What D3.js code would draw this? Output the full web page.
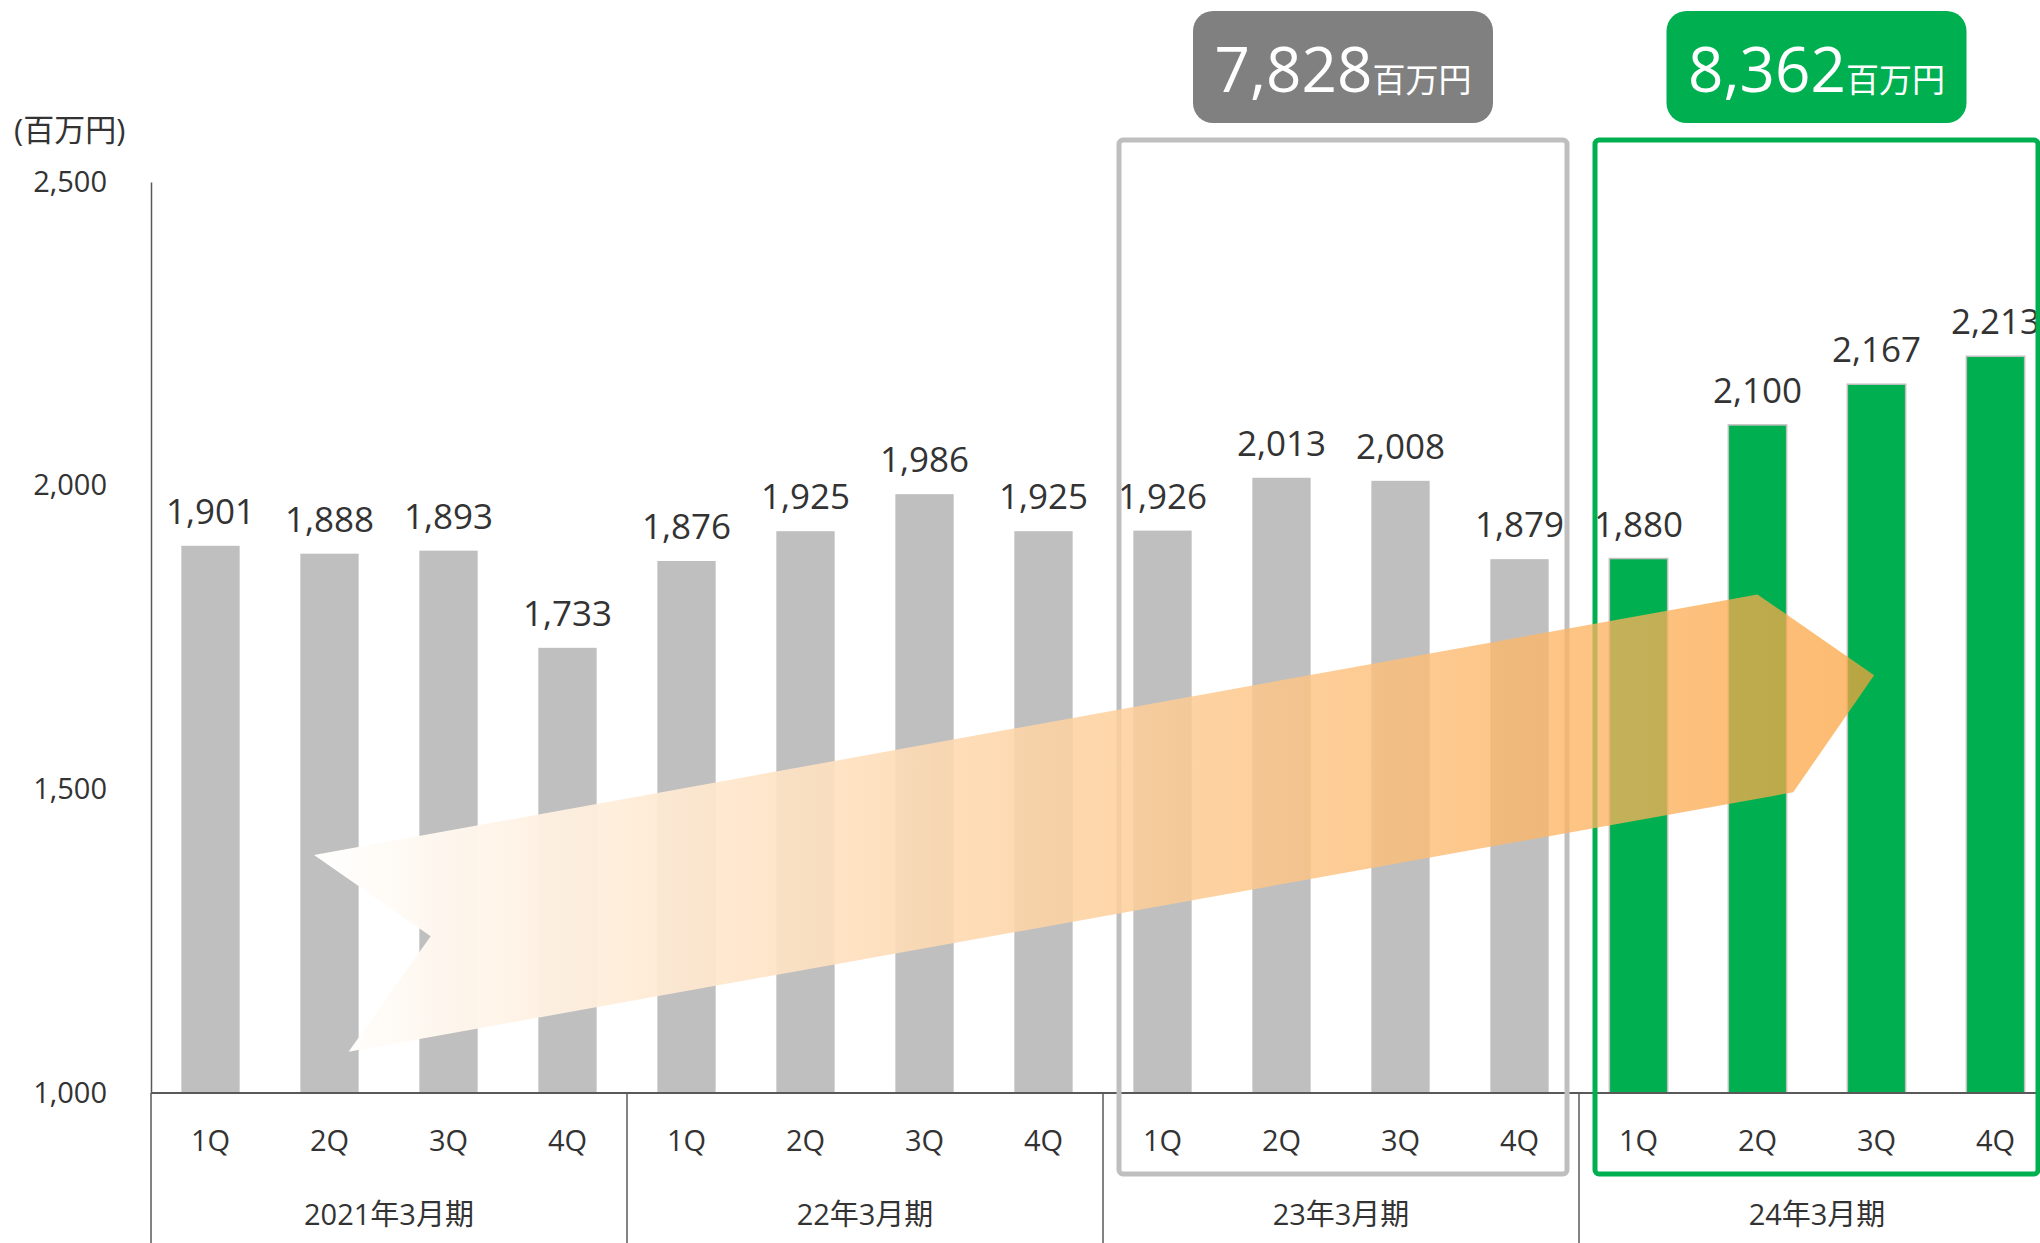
<!DOCTYPE html>
<html>
<head>
<meta charset="utf-8">
<script src="https://cdn.jsdelivr.net/npm/d3@7"></script>
<style>
  body { margin: 0; background: #fff; }
  svg text { font-family: "Open Sans", "Noto Sans CJK JP", sans-serif; fill: #333; }
</style>
</head>
<body>
<svg id="chart" width="2040" height="1243"></svg>
<script>
const fiscalYears = ["2021年3月期", "22年3月期", "23年3月期", "24年3月期"];
const quarters = ["1Q", "2Q", "3Q", "4Q"];
const fy2021 = [1901, 1888, 1893, 1733];
const fy2022 = [1876, 1925, 1986, 1925];
const fy2023 = [1926, 2013, 2008, 1879];
const fy2024 = [1880, 2100, 2167, 2213];
const yTicks = [1000, 1500, 2000, 2500];
const annualTotals = [7828, 8362];   // 23年3月期, 24年3月期
const unitLabel = "(百万円)";
const totalUnit = "百万円";
// arrow outline, in (quarter index, value) space
const arrowShape = [[1.37, 1392], [13.50, 1821], [14.48, 1688], [13.80, 1495], [1.66, 1068], [2.35, 1258]];

const svg = d3.select("#chart");
const plotLeft = 151, plotBase = 1093, plotTop = 182, groupW = 476;

const byYear = [fy2021, fy2022, fy2023, fy2024];
const rows = fiscalYears.flatMap((fy, i) =>
    byYear[i].map((v, j) => ({ fy: fy, q: quarters[j], value: v, hi: i === 3 })));

const x0 = d3.scaleBand().domain(fiscalYears).range([plotLeft, plotLeft + groupW * 4]);
const x1 = d3.scaleBand().domain(quarters).range([0, groupW])
    .paddingInner(0.51).paddingOuter(0.255);
const y = d3.scaleLinear().domain([1000, 2500]).range([plotBase, plotTop]);
const xi = d3.scaleLinear().domain([0, 16]).range([plotLeft, plotLeft + groupW * 4]);

// bars
svg.append("g").selectAll("rect")
    .data(rows)
    .join("rect")
    .attr("x", d => x0(d.fy) + x1(d.q))
    .attr("y", d => y(d.value))
    .attr("width", x1.bandwidth())
    .attr("height", d => plotBase - y(d.value))
    .style("fill", d => d.hi ? "#00b050" : "#bfbfbf")
    .style("stroke", d => d.hi ? "#bfbfbf" : "none")
    .style("stroke-width", 1.5);

// value labels
svg.append("g").selectAll("text")
    .data(rows)
    .join("text")
    .attr("x", d => x0(d.fy) + x1(d.q) + x1.bandwidth() / 2)
    .attr("y", d => y(d.value) - 22)
    .attr("text-anchor", "middle")
    .style("font-size", "35px")
    .text(d => d3.format(",")(d.value));

// y axis
const yAxis = svg.append("g")
    .attr("transform", `translate(${plotLeft},0)`)
    .call(d3.axisLeft(y).tickValues(yTicks).tickSize(0).tickPadding(44)
        .tickFormat(d3.format(",")));
yAxis.select(".domain").style("stroke", "#595959").style("stroke-width", 1.5);
yAxis.selectAll("text").style("font-size", "29px").style("fill", "#333")
    .style("font-family", "\"Open Sans\", \"Noto Sans CJK JP\", sans-serif");

svg.append("text")
    .attr("x", 14).attr("y", 141)
    .style("font-size", "31px")
    .text(unitLabel);

// x axis line + group dividers
svg.append("line")
    .attr("x1", plotLeft).attr("x2", 2040)
    .attr("y1", plotBase).attr("y2", plotBase)
    .style("stroke", "#595959").style("stroke-width", 2);

svg.append("g").selectAll("line")
    .data(fiscalYears)
    .join("line")
    .attr("x1", d => x0(d)).attr("x2", d => x0(d))
    .attr("y1", plotBase).attr("y2", 1243)
    .style("stroke", "#595959").style("stroke-width", 1.5);

// quarter labels
svg.append("g").selectAll("text")
    .data(rows)
    .join("text")
    .attr("x", d => x0(d.fy) + x1(d.q) + x1.bandwidth() / 2)
    .attr("y", 1151)
    .attr("text-anchor", "middle")
    .style("font-size", "29px")
    .text(d => d.q);

// fiscal year labels
svg.append("g").selectAll("text")
    .data(fiscalYears)
    .join("text")
    .attr("x", d => x0(d) + groupW / 2)
    .attr("y", 1225)
    .attr("text-anchor", "middle")
    .style("font-size", "29px")
    .text(d => d);

// highlight boxes and total badges
const boxes = [
    { fy: "23年3月期", w: 448, color: "#bfbfbf", badge: "#808080", total: annualTotals[0] },
    { fy: "24年3月期", w: 443, color: "#00b050", badge: "#00b050", total: annualTotals[1] }
];

boxes.forEach(b => {
    const bx = x0(b.fy) + 16;
    svg.append("rect")
        .attr("x", bx).attr("y", 140)
        .attr("width", b.w).attr("height", 1034)
        .attr("rx", 4)
        .style("fill", "none")
        .style("stroke", b.color)
        .style("stroke-width", 5);

    const cx = bx + b.w / 2;
    svg.append("rect")
        .attr("x", cx - 150).attr("y", 11)
        .attr("width", 300).attr("height", 112)
        .attr("rx", 20)
        .style("fill", b.badge);

    const t = svg.append("text")
        .attr("x", cx).attr("y", 92)
        .attr("text-anchor", "middle");
    t.append("tspan")
        .style("font-size", "62px").style("fill", "#fff")
        .text(d3.format(",")(b.total));
    t.append("tspan")
        .style("font-size", "33px").style("fill", "#fff")
        .text(totalUnit);
});

// growth arrow
const grad = svg.append("defs").append("linearGradient")
    .attr("id", "arrowGrad")
    .attr("gradientUnits", "userSpaceOnUse")
    .attr("x1", xi(1.37)).attr("x2", xi(14.48))
    .attr("y1", 0).attr("y2", 0);
grad.append("stop").attr("offset", 0)
    .attr("stop-color", "#ffffff").attr("stop-opacity", 1);
grad.append("stop").attr("offset", 1)
    .attr("stop-color", "rgb(252,162,61)").attr("stop-opacity", 0.73);

svg.append("path")
    .attr("d", d3.line().x(d => xi(d[0])).y(d => y(d[1]))(arrowShape) + "Z")
    .style("fill", "url(#arrowGrad)");
</script>
</body>
</html>
